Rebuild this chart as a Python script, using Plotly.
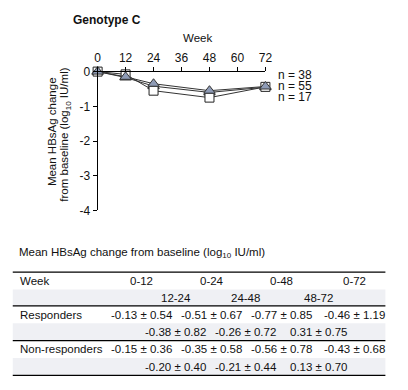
import plotly.graph_objects as go

weeks = [0, 12, 24, 48, 72]
responders = [0, -0.08, -0.55, -0.75, -0.44]      # n = 17, squares
non_responders = [0, -0.15, -0.35, -0.55, -0.43]  # n = 38, triangles
all_patients = [0, -0.17, -0.42, -0.60, -0.45]    # n = 55, triangles
n_labels = ["n = 38", "n = 55", "n = 17"]

x_ticks = [0, 12, 24, 36, 48, 60, 72]
y_ticks = [0, -1, -2, -3, -4]

table_cols_main = ["0-12", "0-24", "0-48", "0-72"]
table_cols_sub = ["12-24", "24-48", "48-72"]
resp_main = ["-0.13 ± 0.54", "-0.51 ± 0.67", "-0.77 ± 0.85", "-0.46 ± 1.19"]
resp_sub = ["-0.38 ± 0.82", "-0.26 ± 0.72", "0.31 ± 0.75"]
nonresp_main = ["-0.15 ± 0.36", "-0.35 ± 0.58", "-0.56 ± 0.78", "-0.43 ± 0.68"]
nonresp_sub = ["-0.20 ± 0.40", "-0.21 ± 0.44", "0.13 ± 0.70"]

W, H = 408, 390
FONT = "Liberation Sans, Arial, sans-serif"
FS = 11.5


def px(x):
    return x / W


def py(y):
    return 1 - y / H


fig = go.Figure()
line_style = dict(color="#333333", width=1)
tri_marker = dict(symbol="triangle-up", size=10, color="#8e9bb6",
                  line=dict(color="#333333", width=1))
sq_marker = dict(symbol="square", size=9, color="white",
                 line=dict(color="#222222", width=1))

fig.add_trace(go.Scatter(x=weeks, y=all_patients, mode="lines+markers",
                         line=line_style, marker=tri_marker, cliponaxis=False))
fig.add_trace(go.Scatter(x=weeks, y=responders, mode="lines+markers",
                         line=line_style, marker=sq_marker, cliponaxis=False))
fig.add_trace(go.Scatter(x=weeks, y=non_responders, mode="lines+markers",
                         line=line_style, marker=tri_marker, cliponaxis=False))

fig.update_layout(
    width=W, height=H, margin=dict(l=0, r=0, t=0, b=0),
    paper_bgcolor="white", plot_bgcolor="white", showlegend=False,
    font=dict(family=FONT, size=FS, color="#111111"),
    xaxis=dict(domain=[px(97), px(269)], range=[0, 72], side="top",
               tickmode="array", tickvals=x_ticks, ticks="outside", ticklen=4,
               tickcolor="black", showline=True, linecolor="black", linewidth=1,
               showgrid=False, zeroline=False, anchor="y",
               tickfont=dict(size=12)),
    yaxis=dict(domain=[py(211), py(67)], range=[-4, 0],
               tickmode="array", tickvals=y_ticks,
               ticktext=[str(v) if v == 0 else "-" + str(-v) for v in y_ticks],
               ticks="outside", ticklen=4, tickcolor="black",
               showline=True, linecolor="black", linewidth=1,
               showgrid=False, zeroline=False, tickfont=dict(size=12)),
)

ann = []
ann.append(dict(x=px(70), y=py(13), xref="paper", yref="paper", text="<b>Genotype C</b>",
                showarrow=False, xanchor="left", yanchor="middle", font=dict(size=12)))
ann.append(dict(x=px(199), y=py(32), xref="paper", yref="paper", text="Week",
                showarrow=False, xanchor="center", yanchor="middle", font=dict(size=FS)))
ann.append(dict(x=px(51), y=py(129), xref="paper", yref="paper", text="Mean HBsAg change",
                showarrow=False, textangle=-90, xanchor="center", yanchor="middle",
                font=dict(size=FS)))
ann.append(dict(x=px(64), y=py(132), xref="paper", yref="paper",
                text="from baseline (log<sub>10</sub> IU/ml)",
                showarrow=False, textangle=-90, xanchor="center", yanchor="middle",
                font=dict(size=FS)))
for i, t in enumerate(n_labels):
    ann.append(dict(x=px(280), y=py(71 + 11 * i), xref="paper", yref="paper", text=t,
                    showarrow=False, xanchor="left", yanchor="middle", font=dict(size=12)))

# table
ann.append(dict(x=px(14), y=py(255), xref="paper", yref="paper",
                text="Mean HBsAg change from baseline (log<sub>10</sub> IU/ml)",
                showarrow=False, xanchor="left", yanchor="middle", font=dict(size=FS)))

shapes = []
shade = "#eff0f4"
for y0 in (293, 328, 364):
    shapes.append(dict(type="rect", xref="paper", yref="paper", x0=px(10), x1=px(392),
                       y0=py(y0 + 17.5), y1=py(y0), fillcolor=shade, line=dict(width=0),
                       layer="below"))
for yl in (275, 310, 346, 382):
    shapes.append(dict(type="line", xref="paper", yref="paper", x0=px(10), x1=px(392),
                       y0=py(yl), y1=py(yl), line=dict(color="black", width=1.2)))

main_x = [142, 214, 286, 360]
sub_x = [177, 249, 323]


def row(y, label, main, sub):
    if label:
        ann.append(dict(x=px(15), y=py(y), xref="paper", yref="paper", text=label,
                        showarrow=False, xanchor="left", yanchor="middle", font=dict(size=FS)))
    for xx, t in zip(main_x, main):
        ann.append(dict(x=px(xx), y=py(y), xref="paper", yref="paper", text=t,
                        showarrow=False, xanchor="center", yanchor="middle", font=dict(size=FS)))
    for xx, t in zip(sub_x, sub):
        ann.append(dict(x=px(xx), y=py(y + 18), xref="paper", yref="paper", text=t,
                        showarrow=False, xanchor="center", yanchor="middle", font=dict(size=FS)))


row(284, "Week", table_cols_main, table_cols_sub)
row(319, "Responders", resp_main, resp_sub)
row(355, "Non-responders", nonresp_main, nonresp_sub)

fig.update_layout(annotations=ann, shapes=shapes)
fig.write_html("out.html", config={"displayModeBar": False},
               post_script="document.body.style.margin='0';")
